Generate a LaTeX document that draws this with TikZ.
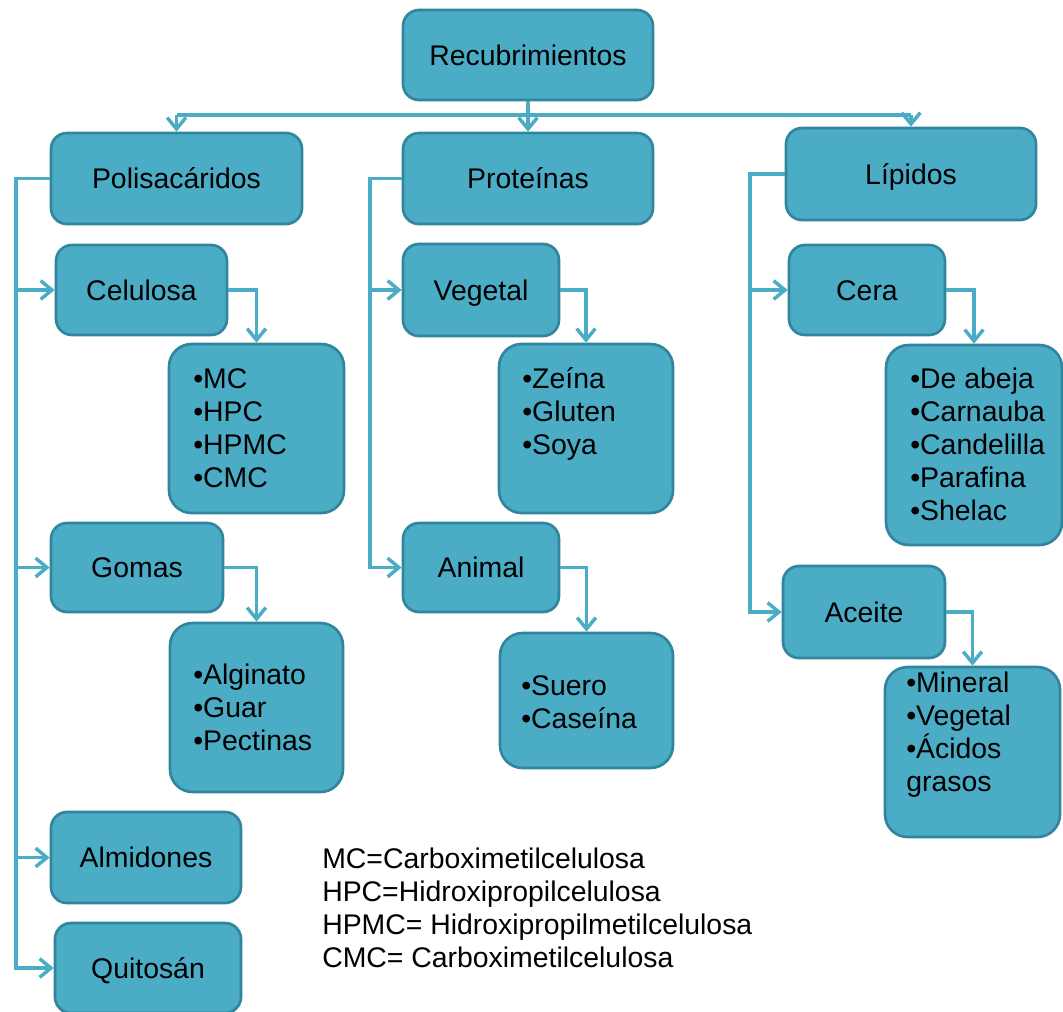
\documentclass[tikz,border=0pt]{standalone}
\usepackage{fontspec}
\setmainfont{Liberation Sans}
\usetikzlibrary{arrows.meta}
\definecolor{boxfill}{HTML}{4BACC6}
\definecolor{boxline}{HTML}{31859C}
\definecolor{connc}{HTML}{4BACC6}
\newcommand{\vlines}[1]{\vtop{\baselineskip=24.75pt\lineskiplimit=-10pt #1}}
\tikzset{
  bigfont/.style={font=\fontsize{21.3pt}{24.75pt}\selectfont},
  box/.style={draw=boxline, fill=boxfill, line width=2pt, rounded corners=12pt,
    inner sep=0pt, bigfont, text height=15.25pt, text depth=0pt},
  listbox/.style={box, rounded corners=17pt},
  sz/.style 2 args={minimum width=#1*0.75pt, minimum height=#2*0.75pt},
  listtext/.style={bigfont, inner sep=0pt, anchor=base west},
  conn/.style={draw=connc, line width=2.6pt},
  arr/.style={conn, -{Straight Barb[length=8.5pt,width=14pt,line width=2.6pt]}},
}
\begin{document}
\begin{tikzpicture}[x=0.75pt, y=-0.75pt]
\path[use as bounding box, clip] (0,0) rectangle (1063,1011);
% main boxes
\node[box, sz={250}{90}] (rec) at (528,55) {Recubrimientos};
\node[box, sz={251}{91}] (pol) at (176.5,178.5) {Polisacáridos};
\node[box, sz={250}{91}] (pro) at (528,178.5) {Proteínas};
\node[box, sz={250}{92}] (lip) at (911,174) {Lípidos};
\node[box, sz={171}{90}] (cel) at (141.5,290) {Celulosa};
\node[box, sz={156}{92}] (veg) at (481,290) {Vegetal};
\node[box, sz={156}{90}] (cer) at (867,290) {Cera};
\node[box, sz={172}{89}] (gom) at (137,567.5) {Gomas};
\node[box, sz={156}{89}] (ani) at (481,567.5) {Animal};
\node[box, sz={162}{92}] (ace) at (864,612) {Aceite};
\node[box, sz={190}{91}] (alm) at (146,857.5) {Almidones};
\node[box, sz={186}{90}] (qui) at (148,968) {Quitosán};
% list boxes
\node[listbox, sz={175}{169}] (mc) at (256.5,428.5) {};
\node[listbox, sz={174}{169}] (zei) at (586,428.5) {};
\node[listbox, sz={176}{200}] (abe) at (974,445) {};
\node[listbox, sz={173}{169}] (alg) at (256.5,707.5) {};
\node[listbox, sz={173}{135}] (sue) at (586.5,700.5) {};
\node[listbox, sz={175}{170}] (min) at (972.5,752) {};
% list texts
\node[listtext] (mct) at (193,388) {\vlines{\hbox{•MC}\hbox{•HPC}\hbox{•HPMC}\hbox{•CMC}}};
\node[listtext] (zeit) at (522,388) {\vlines{\hbox{•Zeína}\hbox{•Gluten}\hbox{•Soya}}};
\node[listtext] (abet) at (910,388) {\vlines{\hbox{•De abeja}\hbox{•Carnauba}\hbox{•Candelilla}\hbox{•Parafina}\hbox{•Shelac}}};
\node[listtext] (algt) at (193,684) {\vlines{\hbox{•Alginato}\hbox{•Guar}\hbox{•Pectinas}}};
\node[listtext] (suet) at (521,695) {\vlines{\hbox{•Suero}\hbox{•Caseína}}};
\node[listtext] (mint) at (906,692) {\vlines{\hbox{•Mineral}\hbox{•Vegetal}\hbox{•Ácidos}\hbox{grasos}}};
% legend
\node[listtext] (leg) at (322,868) {\vlines{\hbox{MC=Carboximetilcelulosa}\hbox{HPC=Hidroxipropilcelulosa}\hbox{HPMC= Hidroxipropilmetilcelulosa}\hbox{CMC= Carboximetilcelulosa}}};
% top bus
\coordinate (bus) at (528,115);
\draw[conn] (pol.north |- bus) -- (lip.north |- bus);
\draw[arr] (rec.south) -- (pro.north);
\draw[arr] (pol.north |- bus) -- (pol.north);
\draw[arr] (lip.north |- bus) -- (lip.north);
% left spine
\coordinate (ls) at (16,178.5);
\draw[arr] (pol.west) -- (ls) |- (qui.west);
\draw[arr] (ls |- cel.west) -- (cel.west);
\draw[arr] (ls |- gom.west) -- (gom.west);
\draw[arr] (ls |- alm.west) -- (alm.west);
% middle spine
\coordinate (ms) at (370,178.5);
\draw[arr] (pro.west) -- (ms) |- (ani.west);
\draw[arr] (ms |- veg.west) -- (veg.west);
% right spine
\coordinate (rs) at (750,174);
\draw[arr] (lip.west) -- (rs) |- (ace.west);
\draw[arr] (rs |- cer.west) -- (cer.west);
% elbows
\draw[arr] (cel.east) -| (mc.north);
\draw[arr] (veg.east) -| (zei.north);
\draw[arr] (cer.east) -| (abe.north);
\draw[arr] (gom.east) -| (alg.north);
\draw[arr] (ani.east) -| (sue.north);
\draw[arr] (ace.east) -| (min.north);
\end{tikzpicture}
\end{document}
